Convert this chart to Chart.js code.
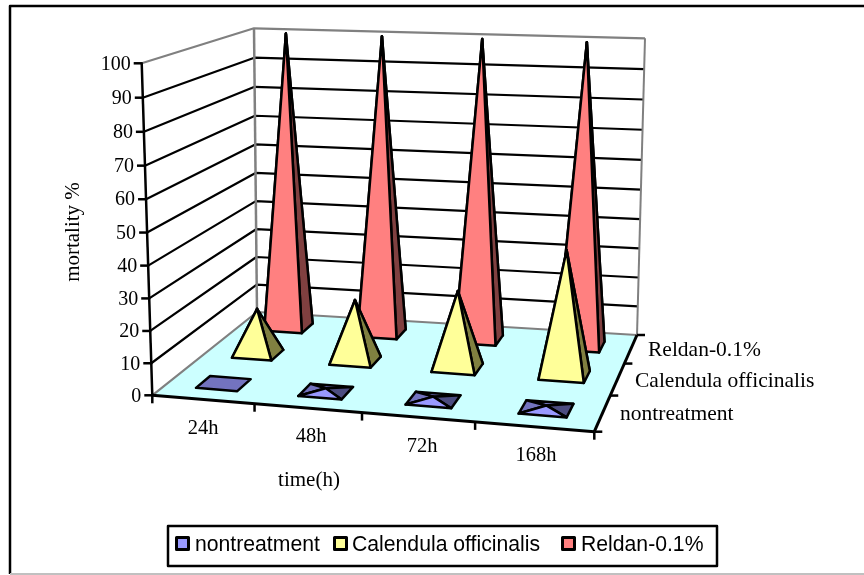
<!DOCTYPE html>
<html>
<head>
<meta charset="utf-8">
<title>mortality</title>
<script src="https://cdn.jsdelivr.net/npm/chart.js@4"></script>
<style>
  html, body { margin: 0; padding: 0; background: #fff; overflow: hidden; }
</style>
</head>
<body>
<canvas id="chart" width="864" height="575"></canvas>
<script>
const categories = ['24h', '48h', '72h', '168h'];
const seriesNames = ['nontreatment', 'Calendula officinalis', 'Reldan-0.1%'];
const nontreatment = [0, 1, 1, 1];
const calendula = [15, 20, 25, 40];
const reldan = [100, 100, 100, 100];
const yTicks = [0, 10, 20, 30, 40, 50, 60, 70, 80, 90, 100];

const faceColors = [
  { front: '#9999ff', side: '#4c4c80', back: '#7373bf' },
  { front: '#ffff99', side: '#808040', back: '#bfbf73' },
  { front: '#ff8080', side: '#804040', back: '#bf6060' },
];

// ── Camera: where the corners of the 3D box land on the page ──
const FLOOR = {
  o: [152.3, 395.3],   // front-left
  u: [594.3, 431.7],   // front-right
  z: [257, 312],       // back-left
  b: [637, 335],       // back-right
};
const TOP = {
  o: [141.7, 63.3],
  u: [601.9, 84.7],    // hidden corner, estimated from the other three
  z: [254, 28.3],
  b: [645, 38.3],
};
const HEIGHT_PERSPECTIVE = 0.04;

const det3 = (m) =>
  m[0][0] * (m[1][1] * m[2][2] - m[1][2] * m[2][1]) -
  m[0][1] * (m[1][0] * m[2][2] - m[1][2] * m[2][0]) +
  m[0][2] * (m[1][0] * m[2][1] - m[1][1] * m[2][0]);

const solve3 = (M, R) => {
  const d = det3(M);
  return [0, 1, 2].map((col) => det3(M.map((row, i) => row.map((c, j) => (j === col ? R[i] : c)))) / d);
};

const makeCamera = () => {
  const { o, u, z, b } = FLOOR;
  // floor homography: k1*U + k3*Z - k0*O = B in homogeneous coordinates
  const [k1, k3, k0] = solve3([[u[0], z[0], -o[0]], [u[1], z[1], -o[1]], [1, 1, -1]], [b[0], b[1], 1]);
  const h = (p, k) => [p[0] * k, p[1] * k, k];
  const sub = (p, q) => [p[0] - q[0], p[1] - q[1], p[2] - q[2]];
  const D = h(o, k0);
  const U = sub(h(u, k1), D), Z = sub(h(z, k3), D);
  // uprights at the four corners
  const up = (key) => [TOP[key][0] - FLOOR[key][0], TOP[key][1] - FLOOR[key][1]];
  const uo = up('o'), uu = up('u'), uz = up('z'), ub = up('b');

  return (fu, fv, fz) => {
    const X = D.map((d, i) => d + U[i] * fu + Z[i] * fz);
    const rise = fv / (1 + HEIGHT_PERSPECTIVE * (1 - fv));
    const blend = (i) =>
      (1 - fu) * (1 - fz) * uo[i] + fu * (1 - fz) * uu[i] + (1 - fu) * fz * uz[i] + fu * fz * ub[i];
    return [X[0] / X[2] + rise * blend(0), X[1] / X[2] + rise * blend(1)];
  };
};
const project = makeCamera();

const SERIF = "'Liberation Serif', 'Times New Roman', serif";
const SANS = "'Liberation Sans', Arial, sans-serif";

const line = (ctx, pts, color, width) => {
  ctx.beginPath();
  pts.forEach((p, i) => (i ? ctx.lineTo(p[0], p[1]) : ctx.moveTo(p[0], p[1])));
  ctx.strokeStyle = color;
  ctx.lineWidth = width;
  ctx.lineJoin = 'round';
  ctx.stroke();
};

const poly = (ctx, pts, fill) => {
  ctx.beginPath();
  pts.forEach((p, i) => (i ? ctx.lineTo(p[0], p[1]) : ctx.moveTo(p[0], p[1])));
  ctx.closePath();
  ctx.fillStyle = fill;
  ctx.fill();
  ctx.strokeStyle = '#000';
  ctx.lineWidth = 2.5;
  ctx.lineJoin = 'round';
  ctx.stroke();
};

// scale pixel -> 0..1 inside the box
const fx = (chart, i) => {
  const s = chart.scales.x;
  return (s.getPixelForValue(i) - s.left) / s.width;
};
const fz = (chart, i) => {
  const s = chart.scales.depth;
  return (s.getPixelForValue(i) - s.left) / s.width;
};
const fy = (chart, val) => {
  const s = chart.scales.y;
  return (s.bottom - s.getPixelForValue(val)) / s.height;
};

const text = (ctx, str, x, y, align) => {
  ctx.textAlign = align;
  ctx.textBaseline = 'middle';
  ctx.fillStyle = '#000';
  ctx.fillText(str, x, y);
};

const pyramid = (ctx, chart, i, s, val) => {
  const c = faceColors[s];
  const mid = i + 0.02; // the originals sit a hair right of the cell centre
  const x0 = fx(chart, mid - 0.205), x1 = fx(chart, mid + 0.205);
  const z0 = fz(chart, s - 0.19), z1 = fz(chart, s + 0.19);
  const fl = project(x0, 0, z0), fr = project(x1, 0, z0);
  const bl = project(x0, 0, z1), br = project(x1, 0, z1);
  const tip = project(fx(chart, mid), fy(chart, val), fz(chart, s));
  if (val === 0) {
    poly(ctx, [fl, fr, br, bl], c.back);
    return;
  }
  poly(ctx, [bl, br, tip], c.back);
  poly(ctx, [fl, bl, tip], c.back);
  poly(ctx, [fr, br, tip], c.side);
  poly(ctx, [fl, fr, tip], c.front);
};

const drawLegend = (chart) => {
  const ctx = chart.ctx;
  const swatchAt = [175, 333, 561];
  const labelAt = [195, 352, 581];
  ctx.strokeStyle = '#000';
  ctx.lineWidth = 2.5;
  ctx.fillStyle = '#fff';
  ctx.fillRect(168, 526, 549, 40);
  ctx.strokeRect(168, 526, 549, 40);
  ctx.font = `21.2px ${SANS}`;
  chart.data.datasets.forEach((ds, i) => {
    ctx.fillStyle = ds.backgroundColor;
    ctx.fillRect(swatchAt[i] + 1.5, 537.5, 12, 12);
    ctx.strokeStyle = '#000';
    ctx.lineWidth = 3;
    ctx.strokeRect(swatchAt[i] + 1.5, 537.5, 12, 12);
    text(ctx, ds.label, labelAt[i], 545, 'left');
  });
};

const box3d = {
  id: 'box3d',
  beforeDraw(chart) {
    const ctx = chart.ctx;
    ctx.save();
    // page frame
    line(ctx, [[10, 574], [10, 6], [864, 6]], '#000', 2.5);
    line(ctx, [[10, 574], [864, 574]], '#c0c0c0', 2);
    drawLegend(chart);
    ctx.restore();
  },
  beforeDatasetsDraw(chart) {
    const ctx = chart.ctx;
    ctx.save();
    const xStart = fx(chart, -0.5), xEnd = fx(chart, categories.length - 0.5);
    const zStart = fz(chart, -0.5), zEnd = fz(chart, seriesNames.length - 0.5);
    const O = project(xStart, 0, zStart), U = project(xEnd, 0, zStart);
    const Z = project(xStart, 0, zEnd), B = project(xEnd, 0, zEnd);

    // floor
    ctx.beginPath();
    [O, U, B, Z].forEach((p, i) => (i ? ctx.lineTo(p[0], p[1]) : ctx.moveTo(p[0], p[1])));
    ctx.closePath();
    ctx.fillStyle = '#ccffff';
    ctx.fill();

    // wall grid
    yTicks.forEach((t) => {
      const v = fy(chart, t);
      const grey = t === yTicks[0] || t === yTicks[yTicks.length - 1];
      line(ctx, [project(xStart, v, zStart), project(xStart, v, zEnd), project(xEnd, v, zEnd)],
        grey ? '#808080' : '#000', 2.2);
    });
    // wall uprights
    line(ctx, [Z, project(xStart, 1, zEnd)], '#808080', 2.5);
    line(ctx, [B, project(xEnd, 1, zEnd)], '#808080', 2);

    // front axes
    line(ctx, [O, U], '#000', 3);
    line(ctx, [U, B], '#000', 3);
    line(ctx, [O, project(xStart, 1, zStart)], '#000', 2.5);

    // axis ticks and labels
    ctx.font = `20px ${SERIF}`;
    yTicks.forEach((t) => {
      const p = project(xStart, fy(chart, t), zStart);
      line(ctx, [[p[0] - 8, p[1]], [p[0] + 1, p[1]]], '#000', 2.5);
      text(ctx, String(t), p[0] - 11, p[1] + 1, 'right');
    });
    for (let i = 0; i <= categories.length; i++) {
      const p = project(fx(chart, i - 0.5), 0, zStart);
      line(ctx, [[p[0], p[1]], [p[0], p[1] + 8]], '#000', 2.5);
    }
    for (let s = 0; s <= seriesNames.length; s++) {
      const p = project(xEnd, 0, fz(chart, s - 0.5));
      line(ctx, [[p[0], p[1]], [p[0] + 8, p[1]]], '#000', 2.5);
    }
    ctx.font = `20.5px ${SERIF}`;
    const catLabelAt = [[203, 429], [311, 437], [422, 447], [536, 456]];
    categories.forEach((c, i) => text(ctx, c, catLabelAt[i][0], catLabelAt[i][1], 'center'));
    ctx.font = `21.5px ${SERIF}`;
    const serLabelAt = [[620, 414], [635, 381], [648, 350]];
    seriesNames.forEach((c, i) => text(ctx, c, serLabelAt[i][0], serLabelAt[i][1], 'left'));
    ctx.font = `21px ${SERIF}`;
    text(ctx, 'time(h)', 309, 480, 'center');
    ctx.save();
    ctx.translate(73, 232);
    ctx.rotate(-Math.PI / 2);
    text(ctx, 'mortality %', 0, 0, 'center');
    ctx.restore();

    // marks, back row first
    for (let s = seriesNames.length - 1; s >= 0; s--) {
      chart.data.datasets[s].data.forEach((val, i) => pyramid(ctx, chart, i, s, val));
    }
    ctx.restore();
  },
  // the flat bars only feed the scales, the pyramids replace them
  beforeDatasetDraw() { return false; },
};

new Chart(document.getElementById('chart'), {
  type: 'bar',
  data: {
    labels: categories,
    datasets: [
      { label: seriesNames[0], data: nontreatment, backgroundColor: faceColors[0].front },
      { label: seriesNames[1], data: calendula, backgroundColor: faceColors[1].front },
      { label: seriesNames[2], data: reldan, backgroundColor: faceColors[2].front },
    ],
  },
  options: {
    responsive: false,
    animation: false,
    plugins: {
      legend: { display: false },
      tooltip: { enabled: false },
    },
    scales: {
      x: { display: false, offset: true },
      y: { display: false, min: 0, max: 100 },
      depth: { axis: 'x', type: 'category', labels: seriesNames, display: false, offset: true },
    },
  },
  plugins: [box3d],
});
</script>
</body>
</html>
